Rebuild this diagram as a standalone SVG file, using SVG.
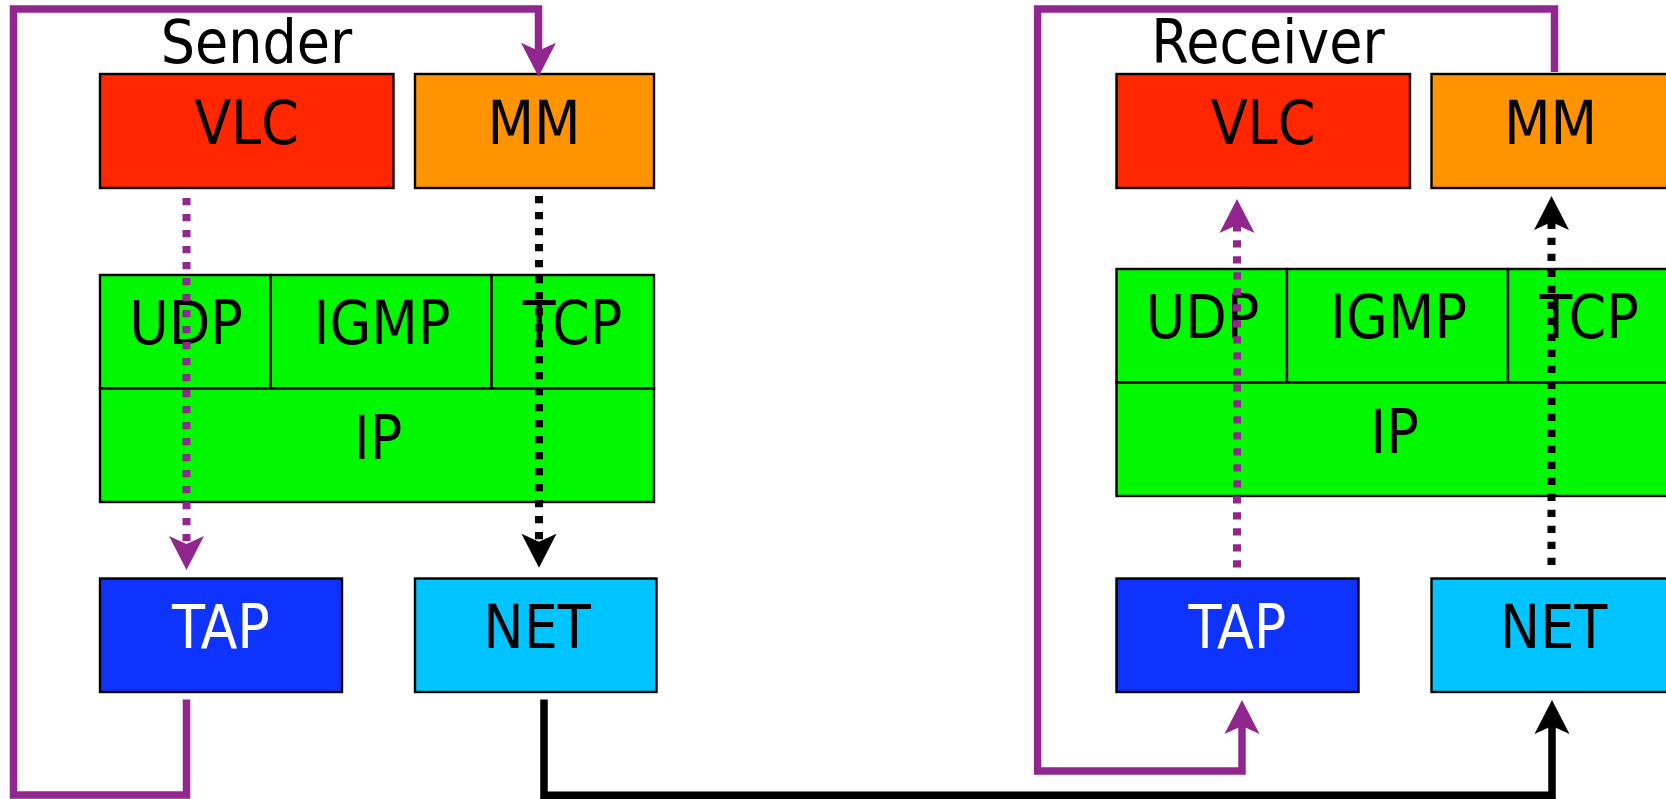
<svg xmlns="http://www.w3.org/2000/svg" width="1666" height="799" viewBox="0 0 1666 799">
<style>
.box{stroke:#000;stroke-width:2.4}
.vlc{fill:#ff2600}
.mm{fill:#ff9300}
.grn{fill:#00f900}
.tap{fill:#0f33ff}
.net{fill:#00c4ff}
.lbl{font-family:"DejaVu Sans Condensed","DejaVu Sans",sans-serif;font-stretch:condensed;font-size:60px;text-anchor:middle;fill:#000}
.wt{fill:#fff}
.pl{fill:none;stroke:#92268f;stroke-width:7.5;stroke-linejoin:miter}
.bl{fill:none;stroke:#000;stroke-width:7.5;stroke-linejoin:miter}
.pd{fill:none;stroke:#92268f;stroke-width:8;stroke-dasharray:7.3 8.7}
.bd{fill:none;stroke:#000;stroke-width:8;stroke-dasharray:7.3 8.7}
</style>
<defs>
<marker id="ap" markerUnits="userSpaceOnUse" orient="auto" refX="0" refY="0" markerWidth="40" markerHeight="40" overflow="visible">
<path d="M26,0 L-8,-17.5 L0,0 L-8,17.5 Z" fill="#92268f"/>
</marker>
<marker id="ab" markerUnits="userSpaceOnUse" orient="auto" refX="0" refY="0" markerWidth="40" markerHeight="40" overflow="visible">
<path d="M26,0 L-8,-17.5 L0,0 L-8,17.5 Z" fill="#000"/>
</marker>
</defs>
<rect width="1666" height="799" fill="#fff"/>

<g id="sender-title"><text class="lbl" x="256.5" y="63.3">Sender</text></g>
<g id="receiver-title"><text class="lbl" x="1268" y="63.3">Receiver</text></g>

<g id="sender-vlc"><rect class="box vlc" x="100" y="74" width="293.5" height="114"/><text class="lbl" x="246.5" y="144">VLC</text></g>
<g id="sender-mm"><rect class="box mm" x="415" y="74" width="239" height="114"/><text class="lbl" x="534" y="144">MM</text></g>
<g id="sender-udp"><rect class="box grn" x="100" y="275" width="170.5" height="113.5"/><text class="lbl" x="186" y="344">UDP</text></g>
<g id="sender-igmp"><rect class="box grn" x="270.5" y="275" width="221" height="113.5"/><text class="lbl" x="382" y="344">IGMP</text></g>
<g id="sender-tcp"><rect class="box grn" x="491.5" y="275" width="162.5" height="113.5"/><text class="lbl" x="572.5" y="344">TCP</text></g>
<g id="sender-ip"><rect class="box grn" x="100" y="388.5" width="554" height="113.5"/><text class="lbl" x="378" y="458.5">IP</text></g>
<g id="sender-tap"><rect class="box tap" x="100" y="578.5" width="242" height="113.5"/><text class="lbl wt" x="221" y="647.7">TAP</text></g>
<g id="sender-net"><rect class="box net" x="415" y="578.5" width="241.5" height="113.5"/><text class="lbl" x="537" y="647.7">NET</text></g>

<g id="receiver-vlc"><rect class="box vlc" x="1116.5" y="74" width="293.5" height="114"/><text class="lbl" x="1263" y="144">VLC</text></g>
<g id="receiver-mm"><rect class="box mm" x="1431.5" y="74" width="239" height="114"/><text class="lbl" x="1550.5" y="144">MM</text></g>
<g id="receiver-udp"><rect class="box grn" x="1116.5" y="269" width="170.5" height="113.5"/><text class="lbl" x="1202.5" y="338">UDP</text></g>
<g id="receiver-igmp"><rect class="box grn" x="1287" y="269" width="221" height="113.5"/><text class="lbl" x="1398.5" y="338">IGMP</text></g>
<g id="receiver-tcp"><rect class="box grn" x="1508" y="269" width="162.5" height="113.5"/><text class="lbl" x="1589" y="338">TCP</text></g>
<g id="receiver-ip"><rect class="box grn" x="1116.5" y="382.5" width="554" height="113.5"/><text class="lbl" x="1394.5" y="452.5">IP</text></g>
<g id="receiver-tap"><rect class="box tap" x="1116.5" y="578.5" width="242" height="113.5"/><text class="lbl wt" x="1237.5" y="647.7">TAP</text></g>
<g id="receiver-net"><rect class="box net" x="1431.5" y="578.5" width="241.5" height="113.5"/><text class="lbl" x="1553.5" y="647.7">NET</text></g>

<g id="connectors">
<path class="pd" d="M186.5,198 V544" marker-end="url(#ap)"/>
<path class="bd" d="M539,196 V541.7" marker-end="url(#ab)"/>
<path class="pd" d="M1237,567.5 V225" marker-end="url(#ap)"/>
<path class="bd" d="M1551.5,565 V222" marker-end="url(#ab)"/>
<path class="pl" d="M186.5,699.5 V795 H13.5 V9 H538.5 V50.7" marker-end="url(#ap)"/>
<path class="pl" d="M1554.5,72 V9 H1037.6 V771 H1242 V726" marker-end="url(#ap)"/>
<path class="bl" d="M544,699.5 V795.3 H1552 V726" marker-end="url(#ab)"/>
</g>
</svg>
